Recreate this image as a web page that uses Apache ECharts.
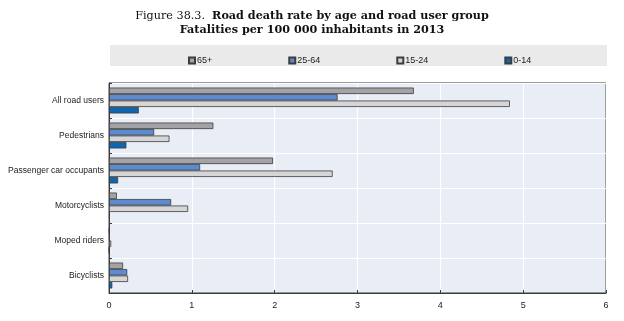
<!DOCTYPE html>
<html>
<head>
<meta charset="utf-8">
<script src="https://cdn.jsdelivr.net/npm/echarts@6/dist/echarts.min.js"></script>
<style>
  html, body { margin: 0; padding: 0; background: #ffffff; }
  #chart { width: 624px; height: 321px; }
</style>
</head>
<body>
<div id="chart"></div>
<script>
// Road user groups, listed top to bottom
const categories = ['All road users', 'Pedestrians', 'Passenger car occupants', 'Motorcyclists', 'Moped riders', 'Bicyclists'];

// Fatalities per 100 000 inhabitants, by age group
const age65plus = [3.68, 1.26, 1.98, 0.095, 0.005, 0.17];
const age25to64 = [2.76, 0.545, 1.10, 0.75, 0.01, 0.22];
const age15to24 = [4.84, 0.73, 2.70, 0.955, 0.027, 0.23];
const age0to14 = [0.36, 0.21, 0.11, 0.01, 0.003, 0.04];

const seriesNames = ['65+', '25-64', '15-24', '0-14'];
const xTicks = [0, 1, 2, 3, 4, 5, 6];

const palette = ['#a3a3a6', '#5d8bd0', '#d5d5d6', '#0c67b2'];
const seriesData = [age65plus, age25to64, age15to24, age0to14];

const chart = echarts.init(document.getElementById('chart'), null, { renderer: 'canvas' });

const labelFont = '"Liberation Sans", Arial, sans-serif';

chart.setOption({
  animation: false,
  backgroundColor: '#ffffff',
  title: {
    left: 'center',
    top: 4,
    text: '{n|Figure 38.3.  }{b|Road death rate by age and road user group}\n{b|Fatalities per 100 000 inhabitants in 2013}',
    textStyle: {
      fontWeight: 'normal',
      lineHeight: 14,
      rich: {
        n: { fontFamily: '"DejaVu Serif", serif', fontSize: 11.2, fontWeight: 'normal', color: '#111', lineHeight: 14 },
        b: { fontFamily: '"DejaVu Serif", serif', fontSize: 11.2, fontWeight: 'bold', color: '#111', lineHeight: 14 }
      }
    }
  },
  graphic: [{
    type: 'rect',
    shape: { x: 110, y: 45, width: 497, height: 21 },
    style: { fill: '#eaeaea' },
    silent: true,
    z: -1
  }],
  legend: {
    left: 183,
    top: 51,
    itemGap: 76,
    itemWidth: 6,
    itemHeight: 6,
    icon: 'rect',
    selectedMode: false,
    textStyle: { fontFamily: labelFont, fontSize: 9, color: '#222', padding: [0, 0, 0, -3] },
    data: seriesNames
  },
  grid: {
    left: 109,
    right: 18,
    top: 83,
    bottom: 28,
    show: true,
    backgroundColor: '#e9edf6',
    borderColor: '#3a3a3a',
    borderWidth: 1
  },
  xAxis: {
    type: 'value',
    min: xTicks[0],
    max: xTicks[xTicks.length - 1],
    interval: 1,
    axisLine: { show: true, lineStyle: { color: '#3a3a3a' } },
    axisTick: { show: true, inside: true, length: 3, lineStyle: { color: '#3a3a3a' } },
    axisLabel: { fontFamily: labelFont, fontSize: 9, color: '#222', margin: 8 },
    splitLine: { show: true, lineStyle: { color: '#ffffff', width: 1.2 } }
  },
  yAxis: {
    type: 'category',
    inverse: true,
    data: categories,
    axisLine: { show: true, lineStyle: { color: '#3a3a3a' } },
    axisTick: { show: true, inside: true, length: 3, lineStyle: { color: '#3a3a3a' } },
    axisLabel: { fontFamily: labelFont, fontSize: 8.5, color: '#222', margin: 5 },
    splitLine: { show: true, lineStyle: { color: '#ffffff', width: 1.2 } }
  },
  series: seriesNames.map((name, i) => ({
    name: name,
    type: 'bar',
    data: seriesData[i],
    barGap: '0%',
    barCategoryGap: '26%',
    itemStyle: { color: palette[i], borderColor: '#3c3c3c', borderWidth: 0.8 }
  }))
});
</script>
</body>
</html>
